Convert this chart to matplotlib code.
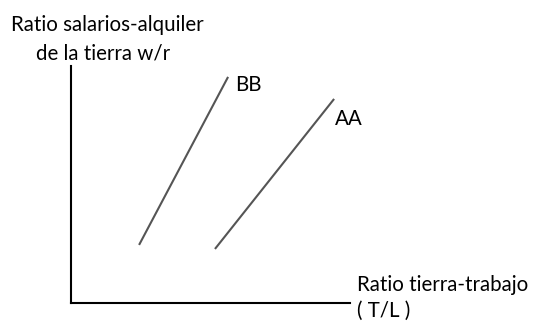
import matplotlib.pyplot as plt

plt.rcParams['font.family'] = ['Lato', 'DejaVu Sans']

# curve endpoints (x = T/L, y = w/r), arbitrary units 0-100
bb_x = [24.4, 56.3]
bb_y = [24.5, 95.4]
aa_x = [51.6, 94.3]
aa_y = [22.8, 86.1]
curve_labels = ['BB', 'AA']

W, H = 545, 323
fig = plt.figure(figsize=(W / 100, H / 100), dpi=100)
# axes box in pixels: left 71, right 350, top 66, bottom 303
ax = fig.add_axes([71 / W, 1 - 303 / H, (350 - 71) / W, (303 - 66) / H])
ax.set_xlim(0, 100)
ax.set_ylim(0, 100)
ax.spines['top'].set_visible(False)
ax.spines['right'].set_visible(False)
ax.spines['left'].set_linewidth(1.5)
ax.spines['bottom'].set_linewidth(1.5)
ax.set_xticks([])
ax.set_yticks([])

ax.plot(bb_x, bb_y, color='#555555', lw=1.5, solid_capstyle='butt')
ax.plot(aa_x, aa_y, color='#555555', lw=1.5, solid_capstyle='butt')

fs = 14.8
ax.text(bb_x[1] + 2.5, bb_y[1] - 3.5, curve_labels[0], fontsize=fs, va='center', ha='left')
ax.text(aa_x[1] + 0.3, aa_y[1] - 8.5, curve_labels[1], fontsize=fs, va='center', ha='left')

fig.text(11 / W, 1 - 25 / H, 'Ratio salarios-alquiler', fontsize=fs, va='center', ha='left')
fig.text(36 / W, 1 - 54 / H, 'de la tierra w/r', fontsize=fs, va='center', ha='left')
fig.text(357 / W, 1 - 285 / H, 'Ratio tierra-trabajo', fontsize=fs, va='center', ha='left')
fig.text(357 / W, 1 - 311 / H, '( T/L )', fontsize=fs, va='center', ha='left')

fig.savefig('out.png', dpi=100)
